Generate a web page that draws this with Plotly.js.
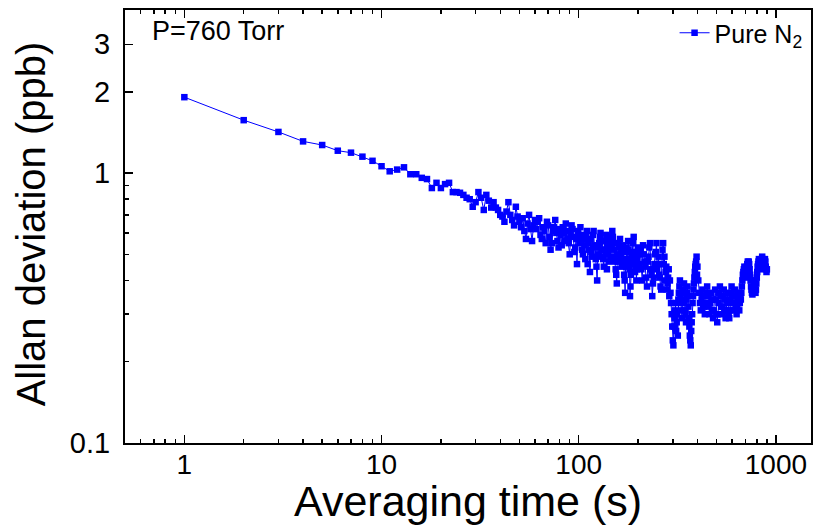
<!DOCTYPE html>
<html><head><meta charset="utf-8">
<script src="https://cdn.plot.ly/plotly-3.0.1.min.js"></script>
<style>html,body{margin:0;padding:0;background:#fff}#chart{width:819px;height:527px}</style>
</head><body><div id="chart"></div>
<script>
// Averaging time (s) and Allan deviation (ppb), segment 1: 1..60 s
const tauA = [1,2,3,4,5,6,7,8,9,10,11,12,13,14,15,16,17,18,19,20,
  21,22,23,24,25,26,27,28,29,30,31,32,33,34,35,36,37,38,39,40,
  41,42,43,44,45,46,47,48,49,50,51,52,53,54,55,56,57,58,59,60];
const adevA = [1.91,1.57,1.42,1.31,1.27,1.21,1.19,1.15,1.11,1.06,1.015,1.03,1.05,0.99,0.99,0.96,0.95,0.88,0.92,0.88,
  0.91,0.92,0.85,0.85,0.845,0.83,0.81,0.80,0.75,0.78,0.85,0.81,0.73,0.83,0.79,0.745,0.78,0.745,0.73,0.70,
  0.69,0.66,0.72,0.78,0.70,0.67,0.64,0.75,0.69,0.66,0.63,0.68,0.61,0.57,0.65,0.70,0.62,0.56,0.64,0.67];
// segment 2: 61..200 s
const tauB = [61,62,63,64,65,66,67,68,69,70,71,72,73,74,75,76,77,78,79,80,
  81,82,83,84,85,86,87,88,89,90,91,92,93,94,95,96,97,98,99,100,
  101,102,103,104,105,106,107,108,109,110,111,112,113,114,115,116,117,118,119,120,
  121,122,123,124,125,126,127,128,129,130,131,132,133,134,135,136,137,138,139,140,
  141,142,143,144,145,146,147,148,149,150,151,152,153,154,155,156,157,158,159,160,
  161,162,163,164,165,166,167,168,169,170,171,172,173,174,175,176,177,178,179,180,
  181,182,183,184,185,186,187,188,189,190,191,192,193,194,195,196,197,198,199,200];
const adevB = [0.62,0.66,0.68,0.59,0.57,0.63,0.61,0.55,0.66,0.64,0.58,0.52,0.55,0.61,0.63,0.67,0.60,0.56,0.53,0.62,
  0.59,0.54,0.63,0.60,0.56,0.65,0.61,0.57,0.55,0.50,0.59,0.64,0.62,0.58,0.51,0.53,0.57,0.46,0.61,0.58,
  0.55,0.63,0.59,0.52,0.50,0.57,0.54,0.48,0.58,0.61,0.46,0.55,0.52,0.43,0.57,0.51,0.49,0.59,0.61,0.54,
  0.53,0.48,0.45,0.40,0.50,0.53,0.55,0.58,0.60,0.49,0.52,0.56,0.48,0.45,0.56,0.52,0.50,0.59,0.44,0.54,
  0.51,0.47,0.56,0.53,0.49,0.58,0.54,0.61,0.58,0.55,0.52,0.49,0.47,0.44,0.42,0.39,0.50,0.47,0.55,0.53,
  0.49,0.57,0.53,0.50,0.45,0.47,0.51,0.54,0.47,0.42,0.40,0.36,0.48,0.45,0.53,0.51,0.46,0.56,0.52,0.48,
  0.44,0.35,0.38,0.42,0.46,0.49,0.51,0.55,0.55,0.58,0.47,0.50,0.43,0.45,0.50,0.40,0.44,0.48,0.51,0.53];
// segment 3: 202..400 s
const tauC = [202,204,206,208,210,212,214,216,218,220,222,224,226,228,230,232,234,236,238,240,
  242,244,246,248,250,252,254,256,258,260,262,264,266,268,270,272,274,276,278,280,
  282,284,286,288,290,292,294,296,298,300,302,304,306,308,310,312,314,316,318,320,
  322,324,326,328,330,332,334,336,338,340,342,344,346,348,350,352,354,356,358,360,
  362,364,366,368,370,372,374,376,378,380,382,384,386,388,390,392,394,396,398,400];
const adevC = [0.46,0.50,0.52,0.44,0.40,0.54,0.50,0.47,0.45,0.41,0.38,0.47,0.49,0.53,0.55,0.44,0.42,0.35,0.39,0.41,
  0.46,0.50,0.51,0.55,0.44,0.46,0.49,0.42,0.41,0.38,0.37,0.46,0.52,0.55,0.46,0.49,0.40,0.43,0.45,0.37,
  0.39,0.41,0.44,0.35,0.40,0.36,0.33,0.30,0.27,0.24,0.23,0.27,0.29,0.31,0.33,0.26,0.28,0.30,0.25,0.34,
  0.36,0.38,0.40,0.35,0.33,0.31,0.29,0.34,0.36,0.37,0.39,0.33,0.31,0.30,0.28,0.34,0.36,0.38,0.35,0.32,
  0.29,0.27,0.25,0.24,0.23,0.26,0.28,0.30,0.33,0.35,0.37,0.39,0.41,0.43,0.45,0.46,0.47,0.49,0.42,0.45];
// segment 4: 404..900 s
const tauD = [404,408,412,416,420,424,428,432,436,440,444,448,452,456,460,464,468,472,476,480,
  484,488,492,496,500,504,508,512,516,520,524,528,532,536,540,544,548,552,556,560,
  564,568,572,576,580,584,588,592,596,600,604,608,612,616,620,624,628,632,636,640,
  644,648,652,656,660,
  664,668,672,676,680,684,688,692,696,700,704,708,712,716,720,724,728,732,736,740,
  744,748,752,756,760,764,768,772,776,780,784,788,792,796,800,804,808,812,816,820,
  824,828,832,836,840,844,848,852,856,860,864,868,872,876,880,884,888,892,896,900];
const adevD = [0.40,0.36,0.33,0.31,0.34,0.37,0.35,0.32,0.30,0.33,0.36,0.38,0.35,0.32,0.30,0.33,0.36,0.34,0.31,0.29,
  0.31,0.34,0.37,0.34,0.30,0.28,0.30,0.33,0.36,0.38,0.35,0.32,0.30,0.32,0.35,0.37,0.34,0.31,0.29,0.31,
  0.34,0.36,0.33,0.30,0.29,0.31,0.34,0.36,0.38,0.35,0.33,0.31,0.33,0.35,0.37,0.35,0.32,0.30,0.32,0.34,
  0.36,0.33,0.31,0.33,0.35,
  0.34,0.36,0.38,0.40,0.42,0.43,0.44,0.45,0.44,0.42,0.41,0.43,0.45,0.46,0.47,0.46,0.47,0.46,0.44,0.42,
  0.40,0.38,0.37,0.36,0.355,0.36,0.37,0.39,0.40,0.38,0.37,0.36,0.37,0.39,0.41,0.43,0.45,0.46,0.47,0.48,
  0.47,0.45,0.44,0.45,0.46,0.47,0.48,0.49,0.48,0.47,0.46,0.45,0.46,0.47,0.48,0.47,0.45,0.44,0.43,0.44];

const xMajor = [1,10,100,1000];
const xMajorText = ['1','10','100','1000'];
const xMinor = [0.6,0.7,0.8,0.9,2,3,4,5,6,7,8,9,20,30,40,50,60,70,80,90,200,300,400,500,600,700,800,900];
const yMajor = [0.1,1,2,3];
const yMajorText = ['0.1','1','2','3'];
const yMinor = [0.2,0.3,0.4,0.5,0.6,0.7,0.8,0.9];

const tau = tauA.concat(tauB, tauC, tauD);
const adev = adevA.concat(adevB, adevC, adevD);

const trace = {
  x: tau, y: adev, type: 'scatter', mode: 'lines+markers',
  name: 'Pure N<sub>2</sub>',
  line: {color: '#0000ff', width: 1},
  marker: {symbol: 'square', size: 6.5, color: '#0000ff'}
};

const layout = {
  width: 819, height: 527,
  margin: {l: 125, r: 8, t: 10, b: 84},
  paper_bgcolor: '#ffffff', plot_bgcolor: '#ffffff',
  font: {family: 'Liberation Sans, Arial, sans-serif', color: '#000000'},
  showlegend: true,
  legend: {x: 0.995, xanchor: 'right', y: 1, yanchor: 'top', bgcolor: 'rgba(0,0,0,0)', font: {size: 25}},
  xaxis: {
    type: 'log', range: [-0.301, 3.178],
    showline: true, linecolor: '#000', linewidth: 2, mirror: 'ticks',
    ticks: 'inside', ticklen: 8, tickwidth: 1.5, tickcolor: '#000',
    tickmode: 'array', tickvals: xMajor, ticktext: xMajorText, tickfont: {size: 28},
    ticklabelstandoff: -5,
    showgrid: false, zeroline: false,
    minor: {ticks: 'inside', ticklen: 4, tickwidth: 1.5, tickcolor: '#000', tickmode: 'array', tickvals: xMinor, showgrid: false}
  },
  yaxis: {
    type: 'log', range: [-1, 0.604],
    showline: true, linecolor: '#000', linewidth: 2, mirror: true,
    ticks: 'inside', ticklen: 8, tickwidth: 1.5, tickcolor: '#000',
    tickmode: 'array', tickvals: yMajor, ticktext: yMajorText, tickfont: {size: 29},
    ticklabelstandoff: 7,
    showgrid: false, zeroline: false,
    minor: {ticks: 'inside', ticklen: 4, tickwidth: 1.5, tickcolor: '#000', tickmode: 'array', tickvals: yMinor, showgrid: false}
  },
  annotations: [{
    text: 'P=760 Torr', xref: 'paper', yref: 'paper', x: 0.036, y: 0.99,
    xanchor: 'left', yanchor: 'top', showarrow: false, font: {size: 27}
  }, {
    text: 'Averaging time (s)', xref: 'paper', yref: 'paper', x: 0.5, y: -0.075,
    xanchor: 'center', yanchor: 'top', showarrow: false, font: {size: 43}
  }, {
    text: 'Allan deviation (ppb)', xref: 'paper', yref: 'paper', x: -0.137, y: 0.505,
    xanchor: 'center', yanchor: 'middle', textangle: -90, showarrow: false, font: {size: 40}
  }]
};

Plotly.newPlot('chart', [trace], layout, {staticPlot: true, displayModeBar: false});
</script>
</body></html>
